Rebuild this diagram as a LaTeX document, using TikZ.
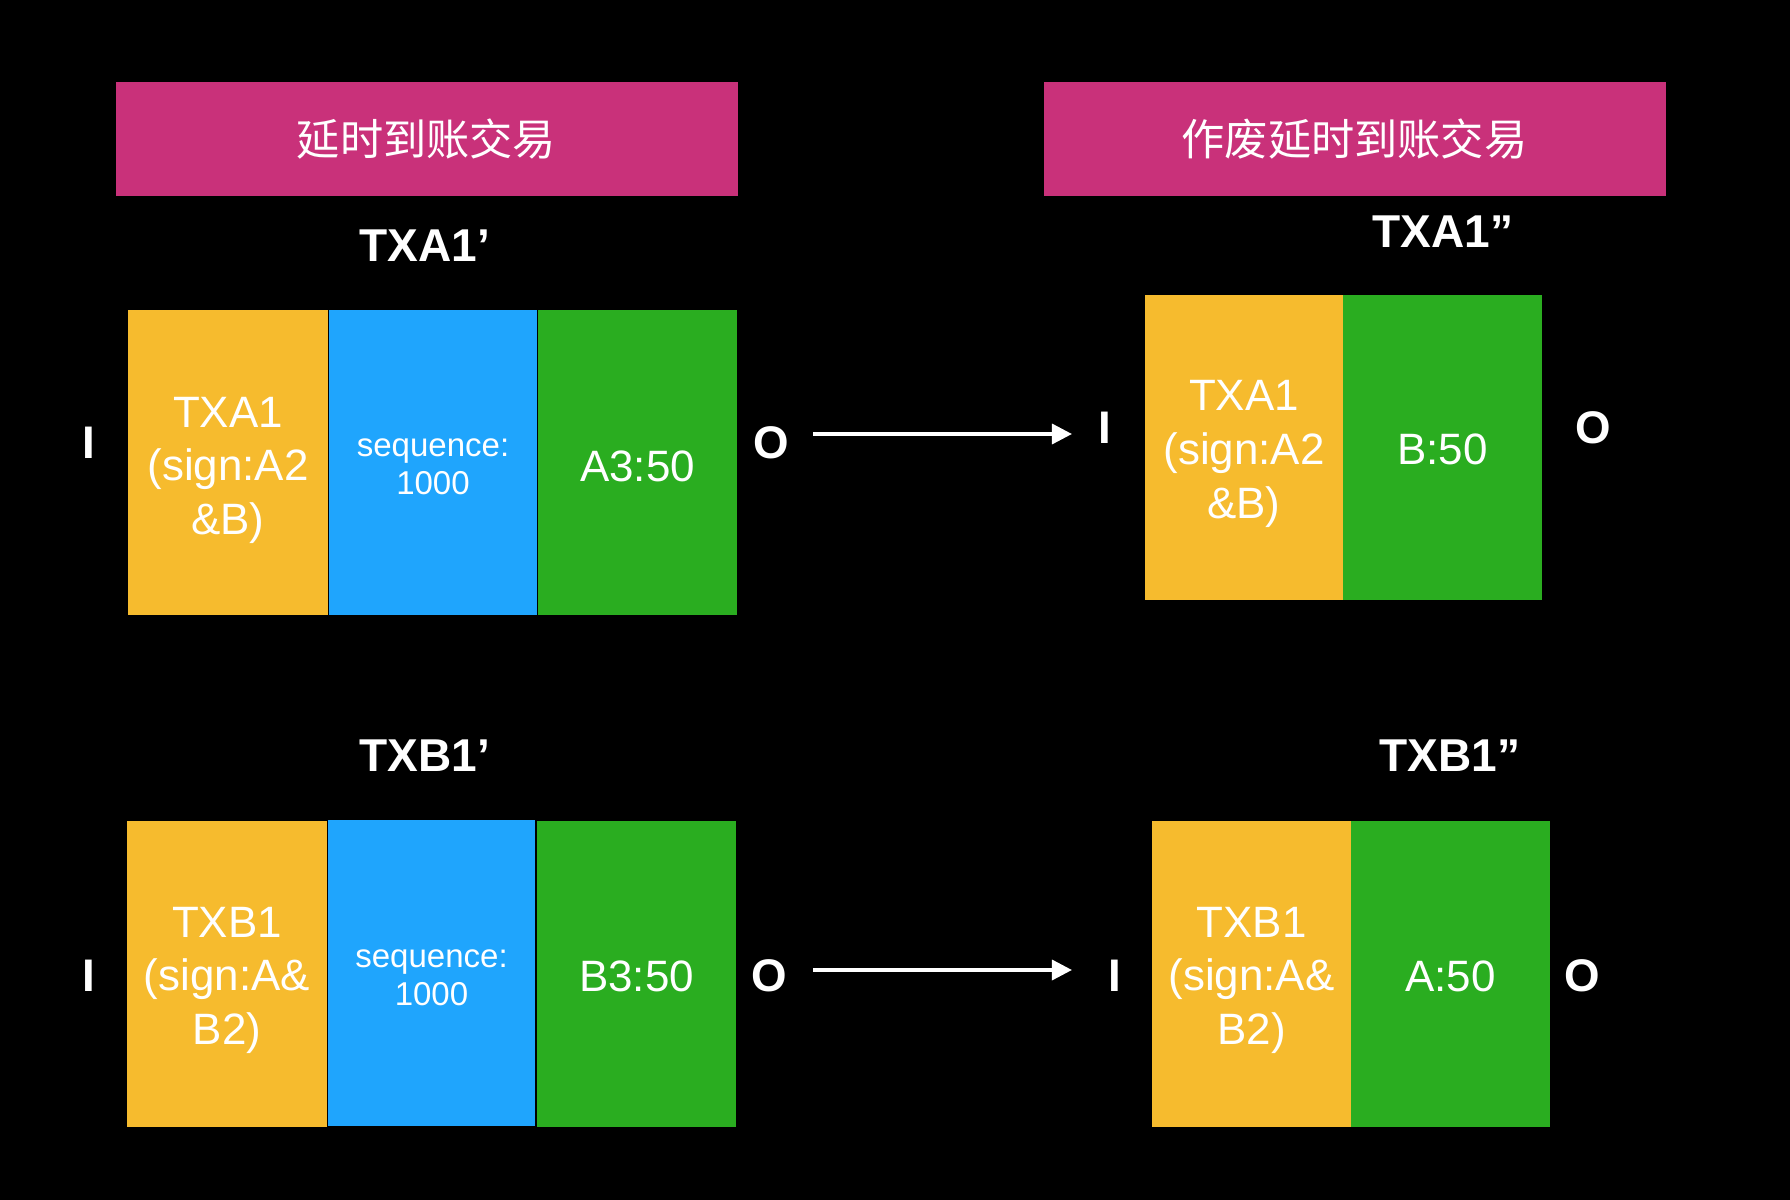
\documentclass[tikz,border=0pt]{standalone}
\usepackage{fontspec}
\setmainfont{Liberation Sans}
\newfontfamily\cjkfont{Noto Sans CJK SC}
\usetikzlibrary{arrows.meta}
\definecolor{hdrpink}{RGB}{201,49,122}
\definecolor{inyellow}{RGB}{246,187,46}
\definecolor{seqblue}{RGB}{31,165,253}
\definecolor{outgreen}{RGB}{42,173,32}
\newcommand{\padtop}[1]{\rule{0pt}{#1}}
\tikzset{
  header/.style={fill=hdrpink, minimum width=62.2mm, minimum height=11.4mm, inner sep=0pt, text=white, font=\cjkfont\fontsize{12.3}{14}\selectfont},
  cell/.style={minimum height=30.6mm, minimum width=19.9mm, inner sep=0pt, text=white, align=center, font=\fontsize{12.5}{15.3}\selectfont},
  seqcell/.style={cell, font=\fontsize{9.4}{10.8}\selectfont},
  txlabel/.style={text=white, inner sep=0pt, font=\bfseries\fontsize{13.1}{15}\selectfont},
  io/.style={text=white, inner sep=0pt, font=\bfseries\fontsize{13}{15}\selectfont},
  arr/.style={draw=white, line width=0.35mm, -{Triangle[length=2mm,width=2mm]}}
}
\begin{document}
\begin{tikzpicture}[x=0.1mm,y=-0.1mm]
\fill[black] (0,0) rectangle (1790,1200);
% headers
\node[header] (hdrL) at (426.5,139) {延时到账交易};
\node[header] (hdrR) at (1354.5,139) {作废延时到账交易};
% top left: TXA1'
\node[txlabel] (lblA1) at (425,246) {TXA1’};
\node[cell, fill=inyellow, minimum width=20mm] (inA1) at (228,462.5) {\padtop{13pt}TXA1\\(sign:A2\\\&B)};
\node[seqcell, fill=seqblue, minimum width=20.8mm] (seqA1) at (433,462.5) {\padtop{7.5pt}sequence:\\1000};
\node[cell, fill=outgreen] (outA1) at (637.5,462.5) {\padtop{11pt}A3:50};
\node[io] (iA1) at (89,443) {I};
\node[io] (oA1) at (771,443) {O};
% top right: TXA1"
\node[txlabel] (lblA2) at (1443,232) {TXA1”};
\node[cell, fill=inyellow, minimum width=19.8mm, minimum height=30.5mm] (inA2) at (1244,447.5) {\padtop{12.2pt}TXA1\\(sign:A2\\\&B)};
\node[cell, fill=outgreen, minimum height=30.5mm] (outA2) at (1442.5,447.5) {\padtop{9.6pt}B:50};
\node[io] (iA2) at (1105,428) {I};
\node[io] (oA2) at (1593,428) {O};
% bottom left: TXB1'
\node[txlabel] (lblB1) at (425,756) {TXB1’};
\node[cell, fill=inyellow, minimum width=20mm] (inB1) at (227,974) {\padtop{12.2pt}TXB1\\(sign:A\&\\B2)};
\node[seqcell, fill=seqblue, minimum width=20.7mm] (seqB1) at (431.5,973) {\padtop{7.5pt}sequence:\\1000};
\node[cell, fill=outgreen] (outB1) at (636.5,974) {\padtop{10.2pt}B3:50};
\node[io] (iB1) at (89,976) {I};
\node[io] (oB1) at (769,976) {O};
% bottom right: TXB1"
\node[txlabel] (lblB2) at (1450,756) {TXB1”};
\node[cell, fill=inyellow] (inB2) at (1251.5,974) {\padtop{12.2pt}TXB1\\(sign:A\&\\B2)};
\node[cell, fill=outgreen] (outB2) at (1450.5,974) {\padtop{10.2pt}A:50};
\node[io] (iB2) at (1115,976) {I};
\node[io] (oB2) at (1582,976) {O};
% arrows
\coordinate (yA) at (0,434);
\coordinate (yB) at (0,970);
\draw[arr, shorten <=2.4mm, shorten >=2.6mm] (oA1.east |- yA) -- (iA2.west |- yA);
\draw[arr, shorten <=2.6mm, shorten >=3.6mm] (oB1.east |- yB) -- (iB2.west |- yB);
\end{tikzpicture}
\end{document}
